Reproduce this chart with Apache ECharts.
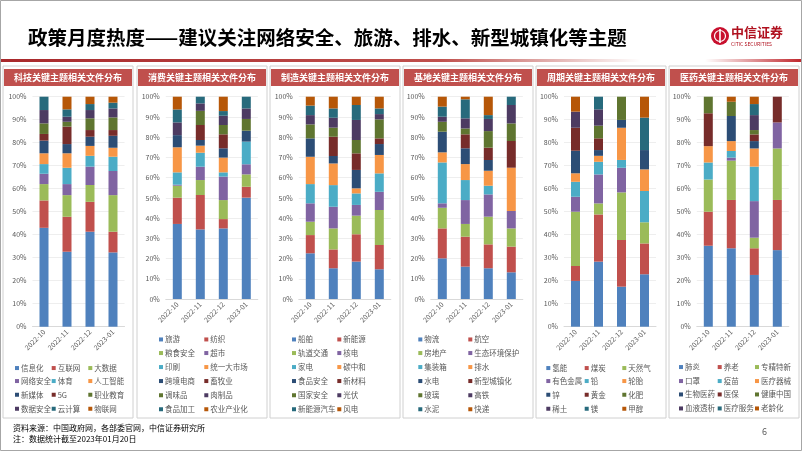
<!DOCTYPE html>
<html>
<head>
<meta charset="utf-8">
<script src="https://cdn.jsdelivr.net/npm/echarts@6/dist/echarts.min.js"></script>
<style>
  html, body { margin: 0; padding: 0; background: #fff; }
  #main { width: 802px; height: 451px; }
</style>
</head>
<body>
<div id="main"></div>
<script>
// 月份
var months = ['2022-10', '2022-11', '2022-12', '2023-01'];

// 各板块主题名
var techNames = ['信息化', '互联网', '大数据', '网络安全', '体育', '人工智能', '新媒体', '5G', '职业教育', '数据安全', '云计算', '物联网'];
var consumeNames = ['旅游', '纺织', '粮食安全', '超市', '印刷', '统一大市场', '跨境电商', '畜牧业', '调味品', '肉制品', '食品加工', '农业产业化'];
var makeNames = ['船舶', '新能源', '轨道交通', '核电', '家电', '碳中和', '食品安全', '新材料', '国家安全', '光伏', '新能源汽车', '风电'];
var baseNames = ['物流', '航空', '房地产', '生态环境保护', '集装箱', '排水', '水电', '新型城镇化', '玻璃', '高铁', '水泥', '快递'];
var cycleNames = ['氢能', '煤炭', '天然气', '有色金属', '铅', '轮胎', '锌', '黄金', '化肥', '稀土', '镁', '甲醇'];
var medNames = ['肺炎', '养老', '专精特新', '口罩', '疫苗', '医疗器械', '生物医药', '医保', '健康中国', '血液透析', '医疗服务', '老龄化'];

// 每月各主题占比(%)，一行一个月
var techShares = [
  [43.0, 11.9, 7.1, 4.5, 4.2, 4.7, 5.5, 2.9, 4.6, 5.8, 5.8, 0],
  [32.6, 15.2, 9.4, 4.8, 7.1, 6.3, 4.0, 7.6, 2.1, 2.2, 3.2, 5.5],
  [41.3, 13.0, 7.3, 8.0, 4.7, 4.3, 4.0, 2.9, 5.1, 3.6, 2.6, 3.2],
  [32.3, 9.0, 15.9, 10.5, 6.2, 3.9, 5.2, 2.5, 5.5, 3.9, 2.5, 2.6]
];
var consumeShares = [
  [37.1, 13.0, 5.9, 0.5, 6.1, 12.4, 6.0, 0, 0, 6.3, 6.4, 6.3],
  [34.4, 17.0, 7.4, 6.6, 6.9, 3.5, 2.8, 7.4, 7.0, 3.7, 3.3, 0],
  [34.9, 4.6, 9.4, 11.6, 2.1, 7.3, 4.6, 6.9, 4.6, 4.6, 2.3, 7.1],
  [50.1, 5.4, 6.1, 5.0, 11.2, 0, 5.4, 0, 5.8, 5.2, 5.8, 0]
];
var makeShares = [
  [22.6, 9.0, 6.6, 9.1, 9.5, 13.5, 9.1, 0, 6.9, 4.6, 4.7, 4.4],
  [15.2, 9.3, 10.4, 10.7, 10.7, 10.7, 3.7, 9.5, 4.5, 4.9, 4.6, 5.8],
  [18.5, 13.5, 9.2, 5.3, 5.7, 2.5, 9.1, 8.2, 6.6, 9.9, 7.4, 4.1],
  [14.7, 12.0, 17.3, 9.0, 9.1, 9.1, 5.4, 2.8, 9.4, 2.6, 2.8, 5.8]
];
var baseShares = [
  [20.1, 14.8, 10.2, 2.2, 20.2, 5.0, 10.2, 0, 4.9, 2.5, 5.0, 4.9],
  [16.0, 14.8, 6.3, 11.8, 9.9, 7.9, 7.8, 6.9, 2.9, 5.0, 9.4, 1.3],
  [15.2, 11.8, 13.7, 11.0, 4.3, 7.4, 5.3, 6.1, 8.2, 6.0, 1.9, 9.1],
  [13.2, 12.7, 9.0, 8.6, 0, 21.4, 0, 13.2, 8.7, 9.1, 4.1, 0]
];
var cycleShares = [
  [19.9, 6.5, 23.6, 6.5, 6.5, 3.7, 9.8, 10.0, 0, 7.0, 0, 6.5],
  [28.3, 20.5, 4.8, 12.6, 5.5, 2.6, 2.5, 5.1, 5.5, 7.1, 5.5, 0],
  [17.4, 20.3, 20.7, 10.7, 3.4, 14.0, 3.4, 0, 10.1, 0, 0, 0],
  [22.8, 13.4, 9.2, 0, 13.6, 9.4, 8.4, 0, 0, 0, 14.1, 9.1]
];
var medShares = [
  [35.2, 14.8, 14.0, 0, 7.4, 7.1, 0, 14.3, 7.2, 0, 0, 0],
  [34.1, 21.0, 17.1, 1.3, 2.9, 4.3, 10.9, 0, 6.2, 0, 0, 2.2],
  [22.5, 11.6, 4.6, 15.9, 15.0, 7.9, 3.2, 2.9, 1.9, 6.5, 4.8, 3.2],
  [33.3, 21.8, 22.4, 11.3, 0, 0, 0, 11.2, 0, 0, 0, 0]
];

var yTicks = [0, 10, 20, 30, 40, 50, 60, 70, 80, 90, 100];

var colors = ['#4F81BD', '#C0504D', '#9BBB59', '#8064A2', '#4BACC6', '#F79646',
              '#2C4D75', '#772C2A', '#5F7530', '#4D3B62', '#276A7C', '#B65708'];

var panels = [
  { title: '科技关键主题相关文件分布', names: techNames, shares: techShares,
    x: 3, gl: 32.5, bottom: 326.7, legX: [15, 51.7, 88.3], legY: [369.3, 382.3, 396, 410] },
  { title: '消费关键主题相关文件分布', names: consumeNames, shares: consumeShares,
    x: 137, gl: 165.8, bottom: 299, legX: [159, 204.3], legY: [340.7, 354.3, 368.3, 382.3, 396.5, 410.5] },
  { title: '制造关键主题相关文件分布', names: makeNames, shares: makeShares,
    x: 270, gl: 298.8, bottom: 299, legX: [292, 337.3], legY: [340.7, 354.3, 368.3, 382.3, 396.5, 410.5] },
  { title: '基地关键主题相关文件分布', names: baseNames, shares: baseShares,
    x: 403, gl: 430.8, bottom: 299, legX: [418.3, 468.3], legY: [340.7, 354.3, 368.3, 382.3, 396.5, 410.5] },
  { title: '周期关键主题相关文件分布', names: cycleNames, shares: cycleShares,
    x: 536, gl: 564, bottom: 326.7, legX: [546.3, 584.7, 622.3], legY: [369.3, 382.3, 396, 410] },
  { title: '医药关键主题相关文件分布', names: medNames, shares: medShares,
    x: 669, gl: 696.8, bottom: 326.7, legX: [679, 717.7, 755], legY: [368.3, 382.3, 395.7, 409.7] }
];

var FONT = '"Noto Sans CJK SC", "Noto Sans", sans-serif';
var grids = [], xAxes = [], yAxes = [], series = [], legends = [], graphics = [];

panels.forEach(function (p, pi) {
  grids.push({ left: p.gl, width: 92, top: 96.7, height: p.bottom - 96.7 });
  xAxes.push({
    type: 'category', gridIndex: pi, data: months,
    axisTick: { show: false },
    axisLine: { lineStyle: { color: '#d9d9d9' } },
    axisLabel: { rotate: 45, fontSize: 7, color: '#595959', margin: 4, fontFamily: FONT, interval: 0 }
  });
  yAxes.push({
    type: 'value', gridIndex: pi, min: 0, max: 100, interval: 10,
    axisLine: { show: false }, axisTick: { show: false },
    splitLine: { lineStyle: { color: '#e3e3e3', width: 0.6 } },
    axisLabel: { fontSize: 7, color: '#595959', margin: 6, fontFamily: FONT,
      formatter: function (v) { return yTicks.indexOf(v) >= 0 ? v + '%' : ''; } }
  });
  p.names.forEach(function (name, si) {
    series.push({
      name: name, type: 'bar', stack: 'p' + pi, xAxisIndex: pi, yAxisIndex: pi,
      barWidth: 9, itemStyle: { color: colors[si] },
      data: p.shares.map(function (m) { return m[si]; })
    });
    var cols = p.legX.length;
    legends.push({
      data: [name], selectedMode: false, icon: 'rect', itemWidth: 4, itemHeight: 4,
      itemGap: 0, padding: 0,
      left: p.legX[si % cols], top: p.legY[Math.floor(si / cols)] - 5,
      textStyle: { fontSize: 7.5, color: '#595959', fontFamily: FONT, padding: [0, 0, 0, -3] }
    });
  });
  // 面板边框与标题
  graphics.push({ type: 'rect', shape: { x: p.x, y: 66, width: 130, height: 352 },
    style: { fill: 'none', stroke: '#d0d0d0', lineWidth: 1 } });
  graphics.push({ type: 'rect', shape: { x: p.x + 1, y: 69, width: 128, height: 17 },
    style: { fill: '#C0504D' } });
  graphics.push({ type: 'text', x: p.x + 65, y: 77.5,
    style: { text: p.title, fill: '#fff', font: 'bold 9px ' + FONT, textAlign: 'center', textVerticalAlign: 'middle' } });
});

// 页面装饰
graphics.push({ type: 'rect', shape: { x: 0.5, y: 0.5, width: 801, height: 450 },
  style: { fill: 'none', stroke: '#a6a6a6', lineWidth: 1 } });
graphics.push({ type: 'text', x: 28, y: 38,
  style: { text: '政策月度热度——建议关注网络安全、旅游、排水、新型城镇化等主题', fill: '#000',
    font: 'bold 19.5px ' + FONT, textVerticalAlign: 'middle' } });
graphics.push({ type: 'rect', shape: { x: 1, y: 59, width: 800, height: 3 },
  style: { fill: new echarts.graphic.LinearGradient(0, 0, 1, 0, [
    { offset: 0, color: '#A8282B' }, { offset: 0.55, color: '#C0504D' },
    { offset: 0.8, color: '#ffffff' }, { offset: 0.88, color: '#ffffff' }, { offset: 1, color: '#C0272D' }]) } });
// logo
graphics.push({ type: 'circle', shape: { cx: 720, cy: 36, r: 9 }, style: { fill: '#C8102E' } });
graphics.push({ type: 'circle', shape: { cx: 720, cy: 36, r: 5.5 }, style: { fill: 'none', stroke: '#fff', lineWidth: 1.2 } });
graphics.push({ type: 'rect', shape: { x: 719.2, y: 29, width: 1.6, height: 14 }, style: { fill: '#fff' } });
graphics.push({ type: 'text', x: 731, y: 32, style: { text: '中信证券', fill: '#B0101E', font: 'bold 13px ' + FONT, textVerticalAlign: 'middle' } });
graphics.push({ type: 'text', x: 731, y: 44, style: { text: 'CITIC SECURITIES', fill: '#B0101E', font: '5px ' + FONT, textVerticalAlign: 'middle' } });
// 脚注
graphics.push({ type: 'text', x: 13, y: 428, style: { text: '资料来源：中国政府网，各部委官网，中信证券研究所', fill: '#000', font: '8px ' + FONT, textVerticalAlign: 'middle' } });
graphics.push({ type: 'text', x: 13, y: 438.5, style: { text: '注：数据统计截至2023年01月20日', fill: '#000', font: '8px ' + FONT, textVerticalAlign: 'middle' } });
graphics.push({ type: 'text', x: 762, y: 432, style: { text: '6', fill: '#595959', font: '9px ' + FONT, textVerticalAlign: 'middle' } });

var myChart = echarts.init(document.getElementById('main'));
myChart.setOption({
  animation: false,
  backgroundColor: '#fff',
  grid: grids,
  xAxis: xAxes,
  yAxis: yAxes,
  legend: legends,
  series: series,
  graphic: graphics
});
</script>
</body>
</html>
